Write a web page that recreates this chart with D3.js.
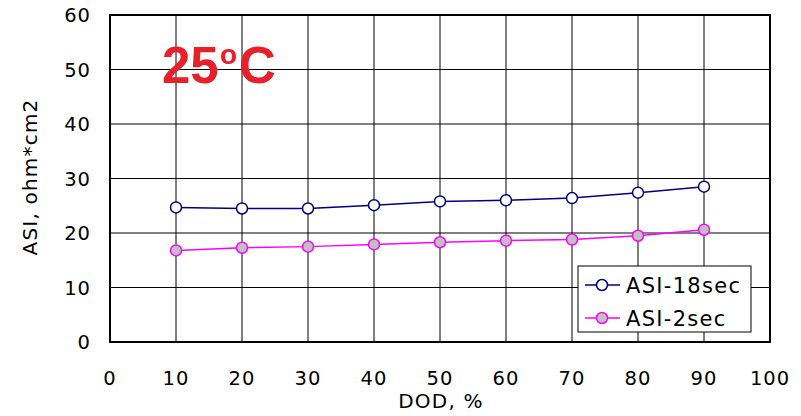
<!DOCTYPE html>
<html lang="en">
  <head>
    <meta charset="utf-8" />
    <title>ASI vs DOD at 25C</title>
    <script src="https://cdn.jsdelivr.net/npm/d3@7"></script>
    <style>
      body { margin: 0; background: #fff; }
      text { font-family: "DejaVu Sans", Verdana, sans-serif; }
    </style>
  </head>
  <body>
    <script>
      // data
      var dod = [10, 20, 30, 40, 50, 60, 70, 80, 90];
      var asi18 = [24.7, 24.5, 24.5, 25.1, 25.8, 26.0, 26.4, 27.4, 28.5];
      var asi2 = [16.8, 17.3, 17.5, 17.9, 18.3, 18.6, 18.8, 19.5, 20.6];
      var xTicks = [0, 10, 20, 30, 40, 50, 60, 70, 80, 90, 100];
      var yTicks = [0, 10, 20, 30, 40, 50, 60];

      var w = 801, h = 416;
      var plotL = 110, plotR = 770, plotT = 15, plotB = 342;

      var x = d3.scaleLinear().domain([0, 100]).range([plotL, plotR]);
      var y = d3.scaleLinear().domain([0, 60]).range([plotB, plotT]);

      var svg = d3.select("body").append("svg")
        .attr("width", w).attr("height", h);

      // grid
      svg.selectAll("line.vg").data(xTicks.slice(1, -1)).enter().append("line")
        .attr("x1", d => x(d)).attr("x2", d => x(d))
        .attr("y1", plotT).attr("y2", plotB)
        .attr("stroke", "#000").attr("stroke-width", 1);
      svg.selectAll("line.hg").data(yTicks.slice(1, -1)).enter().append("line")
        .attr("x1", plotL).attr("x2", plotR)
        .attr("y1", d => y(d)).attr("y2", d => y(d))
        .attr("stroke", "#000").attr("stroke-width", 1);

      // frame
      svg.append("rect")
        .attr("x", plotL).attr("y", plotT)
        .attr("width", plotR - plotL).attr("height", plotB - plotT)
        .attr("fill", "none").attr("stroke", "#000").attr("stroke-width", 2);

      // tick labels
      svg.selectAll("text.xt").data(xTicks).enter().append("text")
        .attr("x", d => x(d)).attr("y", plotB + 43)
        .attr("text-anchor", "middle")
        .attr("font-size", 19.5).attr("letter-spacing", 1)
        .text(d => d);
      svg.selectAll("text.yt").data(yTicks).enter().append("text")
        .attr("x", 91).attr("y", d => y(d) + 7)
        .attr("text-anchor", "end")
        .attr("font-size", 19.5).attr("letter-spacing", 1)
        .text(d => d);

      // axis titles
      svg.append("text")
        .attr("x", 441).attr("y", 408)
        .attr("text-anchor", "middle").attr("font-size", 20).attr("letter-spacing", 1.2)
        .text("DOD, %");
      svg.append("text")
        .attr("transform", "translate(37,177) rotate(-90)")
        .attr("text-anchor", "middle").attr("font-size", 20).attr("letter-spacing", 1.2)
        .text("ASI, ohm*cm2");

      // temperature label (style, so the css rule above does not win)
      var temp = svg.append("text")
        .attr("x", 162).attr("y", 83)
        .style("font-family", "'Liberation Sans', Arial, sans-serif")
        .attr("font-weight", "bold")
        .attr("fill", "#e8202a");
      temp.append("tspan").attr("font-size", 51).text("25");
      temp.append("tspan").attr("x", 220).attr("dy", -19).attr("font-size", 28).text("o");
      temp.append("tspan").attr("x", 239).attr("dy", 19).attr("font-size", 51).text("C");

      var series = [
        { name: "ASI-18sec", values: asi18, line: "#000080", fill: "#fff" },
        { name: "ASI-2sec", values: asi2, line: "#ff00ff", fill: "#c0c0c0" }
      ];

      var line = d3.line().x(d => x(d[0])).y(d => y(d[1]));

      series.forEach(function (s) {
        var pts = dod.map((d, i) => [d, s.values[i]]);
        svg.append("path").datum(pts)
          .attr("d", line).attr("fill", "none")
          .attr("stroke", s.line).attr("stroke-width", 1.5);
        svg.selectAll(null).data(pts).enter().append("circle")
          .attr("cx", d => x(d[0])).attr("cy", d => y(d[1])).attr("r", 5.5)
          .attr("fill", s.fill).attr("stroke", s.line).attr("stroke-width", 1.5);
      });

      // legend
      var lg = svg.append("g");
      lg.append("rect")
        .attr("x", 578).attr("y", 266).attr("width", 173).attr("height", 66)
        .attr("fill", "#fff").attr("stroke", "#000").attr("stroke-width", 1);
      series.forEach(function (s, i) {
        var cy = 285 + i * 33;
        lg.append("line")
          .attr("x1", 585).attr("x2", 620).attr("y1", cy).attr("y2", cy)
          .attr("stroke", s.line).attr("stroke-width", 1.5);
        lg.append("circle")
          .attr("cx", 602).attr("cy", cy).attr("r", 5.5)
          .attr("fill", s.fill).attr("stroke", s.line).attr("stroke-width", 1.5);
        lg.append("text")
          .attr("x", 626).attr("y", cy + 8)
          .attr("font-size", 21).attr("letter-spacing", 1.3)
          .text(s.name);
      });
    </script>
  </body>
</html>
